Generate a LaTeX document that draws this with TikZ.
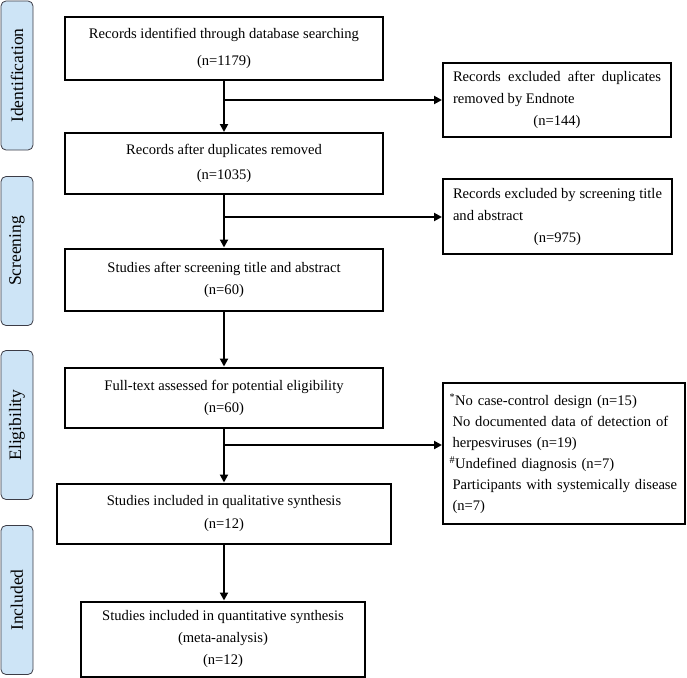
\documentclass[tikz,border=0pt]{standalone}
\usepackage{fontspec}
\setmainfont{Liberation Serif}
\usetikzlibrary{arrows.meta}
\definecolor{lblfill}{RGB}{205,228,246}
\definecolor{lbldraw}{RGB}{60,60,70}
\begin{document}
\begin{tikzpicture}[x=1pt,y=-1pt,
  font=\fontsize{14.6}{22}\selectfont,
  mainbox/.style={draw, line width=2pt, inner sep=0pt, align=center},
  sidebox/.style={draw, line width=2pt, inner sep=0pt},
  lbl/.style={draw=lbldraw, fill=lblfill, line width=0.8pt, rounded corners=5pt,
    minimum width=149pt, minimum height=32pt, inner sep=0pt, rotate=90,
    font=\fontsize{17.5}{20}\selectfont},
  arr/.style={line width=2pt, -{Triangle[length=8pt,width=8pt]}}]
\useasboundingbox (0,0) rectangle (687,677);

% stage labels
\node[lbl] (lid) at (17,75.5) {Identification};
\node[lbl] (lsc) at (17,251) {Screening};
\node[lbl] (lel) at (17,425) {Eligibility};
\node[lbl] (lin) at (17,600) {Included};

% main boxes
\node[mainbox, minimum width=318pt, minimum height=62pt, font=\fontsize{14.6}{27}\selectfont] (b1) at (224,48.5)
  {Records identified through database searching\\(n=1179)};
\node[mainbox, minimum width=318pt, minimum height=61pt, font=\fontsize{14.6}{25}\selectfont] (b2) at (224,163.5)
  {Records after duplicates removed\\(n=1035)};
\node[mainbox, minimum width=318pt, minimum height=62pt] (b3) at (224,279.5)
  {Studies after screening title and abstract\\(n=60)};
\node[mainbox, minimum width=318pt, minimum height=60pt] (b4) at (224,397.5)
  {Full-text assessed for potential eligibility\\(n=60)};
\node[mainbox, minimum width=334pt, minimum height=60pt, font=\fontsize{14.6}{23}\selectfont] (b5) at (224,513.5)
  {Studies included in qualitative synthesis\\(n=12)};
\node[mainbox, minimum width=284pt, minimum height=75pt] (b6) at (223,639)
  {Studies included in quantitative synthesis\\(meta-analysis)\\(n=12)};

% side boxes
\node[sidebox, minimum width=228pt, minimum height=74pt, text width=208pt, align=justify] (r1) at (557,99.5)
  {Records excluded after duplicates\linebreak removed by Endnote\par\centering (n=144)\par};
\node[sidebox, minimum width=229pt, minimum height=75pt, text width=209pt, align=justify] (r2) at (557.5,216.5)
  {Records excluded by screening title\linebreak and abstract\par\centering (n=975)\par};
\node[sidebox, minimum width=242pt, minimum height=141pt, text width=229pt, align=left,
      font=\fontsize{14.6}{21}\selectfont] (r3) at (564,453.5)
  {\textsuperscript{*}No case-control design (n=15)\\
   \hspace*{3pt}\makebox[223pt][s]{No documented data of detection of}\\
   \hspace*{3pt}herpesviruses (n=19)\\
   \textsuperscript{\#}Undefined diagnosis (n=7)\\
   \hspace*{3pt}\makebox[225pt][s]{Participants with systemically disease}\\
   \hspace*{3pt}(n=7)};

% junctions
\coordinate (j1) at (224,100);
\coordinate (j2) at (224,217);
\coordinate (j3) at (224,445);

% vertical arrows
\draw[arr] (b1.south) -- (b2.north);
\draw[arr] (b2.south) -- (b3.north);
\draw[arr] (b3.south) -- (b4.north);
\draw[arr] (b4.south) -- (b5.north);
\draw[arr] (b5.south) -- (b5.south |- b6.north);

% side arrows
\draw[arr] (j1) -- (j1 -| r1.west);
\draw[arr] (j2) -- (j2 -| r2.west);
\draw[arr] (j3) -- (j3 -| r3.west);
\end{tikzpicture}
\end{document}
